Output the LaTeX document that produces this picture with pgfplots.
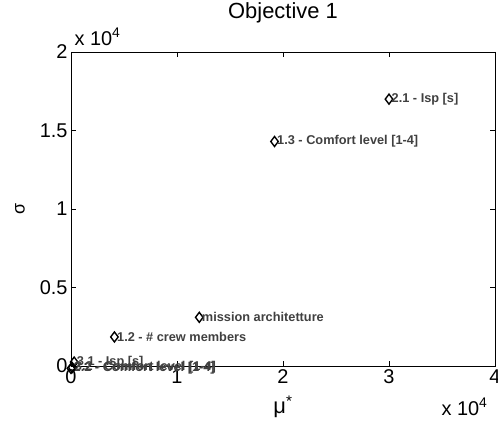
\documentclass[border=0pt]{standalone}
\usepackage{fontspec}
\setmainfont{Liberation Sans}
\usepackage{pgfplots}
\pgfplotsset{compat=1.18}
\definecolor{lbl}{HTML}{404040}
\begin{document}
\begin{tikzpicture}[x=1bp,y=1bp]
\path[use as bounding box] (0,0) rectangle (498,427);
\begin{axis}[at={(71bp,61bp)}, anchor=south west, scale only axis,
  width=424bp, height=314bp,
  xmin=0, xmax=40000, ymin=0, ymax=20000,
  xtick={0,10000,20000,30000,40000}, xticklabels={0,1,2,3,4},
  ytick={0,5000,10000,15000,20000}, yticklabels={0,0.5,1,1.5,2},
  scaled ticks=false,
  tick align=inside, major tick length=5bp,
  axis line style={line width=0.8bp},
  tick style={line width=0.6bp, black},
  /pgf/number format/assume math mode=true,
  tick label style={font=\fontsize{20}{20}\selectfont},
  clip=false,
]
\addplot[only marks, mark=diamond, mark size=5bp, line width=1.4bp, black,
  point meta=explicit symbolic,
  nodes near coords,
  every node near coord/.style={anchor=west, xshift=1bp, text=lbl,
     font=\bfseries\fontsize{12.8}{13}\selectfont, inner sep=1bp}]
  table[meta=label] {
x y label
30000 17000 {2.1 - Isp [s]}
19200 14300 {1.3 - Comfort level [1-4]}
12100 3100 {mission architetture}
4100 1850 {1.2 - \# crew members}
300 250 {3.1 - Isp [s]}
0 -150 {2.2 - Comfort level [1-4]}
120 -100 {3.2 - Comfort level [1-4]}
};
\end{axis}
\node[font=\fontsize{22}{22}\selectfont] at (283,414) {Objective 1};
\node[font=\fontsize{20}{20}\selectfont, anchor=base west] at (71,382) {x 10\textsuperscript{4}};
\node[font=\fontsize{20}{20}\selectfont, anchor=base west] at (438,12) {x 10\textsuperscript{4}};
\node[font=\fontsize{18}{18}\selectfont, rotate=90] at (20,218) {σ};
\node[font=\fontsize{22}{22}\selectfont] at (283,20) {μ\textsuperscript{*}};
\end{tikzpicture}
\end{document}
